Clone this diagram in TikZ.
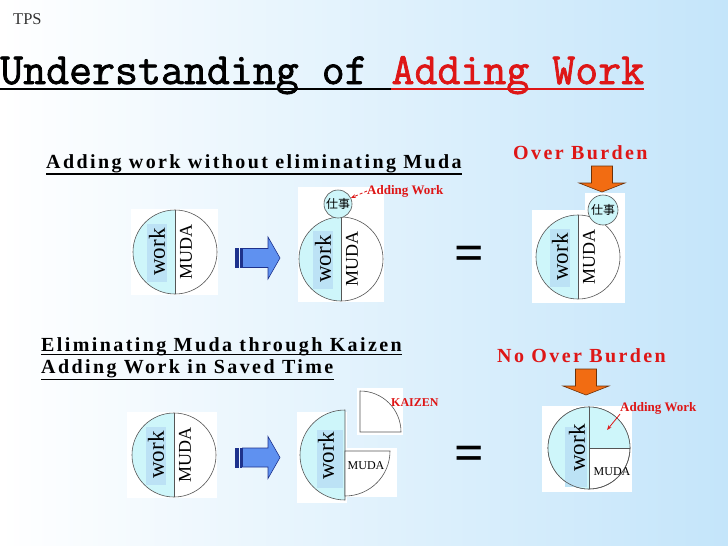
\documentclass[tikz,border=0pt]{standalone}
\usepackage{fontspec}
\setmainfont{Liberation Serif}
\newfontfamily\jpfont{Noto Sans CJK JP}
\newfontfamily\headfont[LetterSpace=12]{Liberation Serif}
\newfontfamily\titlefont[FakeBold=1.6]{Latin Modern Mono}
\usetikzlibrary{arrows.meta,positioning,calc}
\definecolor{bgblue}{RGB}{196,229,250}
\definecolor{cyanfill}{RGB}{206,246,250}
\definecolor{workbox}{RGB}{188,226,245}
\definecolor{tpsred}{RGB}{222,22,22}
\definecolor{arrowblue}{RGB}{95,145,240}
\definecolor{arrowedge}{RGB}{30,50,140}
\definecolor{burdenorange}{RGB}{242,108,18}
\definecolor{rimgray}{RGB}{85,85,85}

\begin{document}
\begin{tikzpicture}[x=1pt, y=-1pt,
    heading/.style={font=\headfont\bfseries\fontsize{20}{24}\selectfont, inner sep=0pt, anchor=base west},
    redhead/.style={heading, text=tpsred},
    note/.style={font=\bfseries\fontsize{13}{15}\selectfont, text=tpsred, inner sep=0pt},
    uline/.style={line width=1.8pt},
    panel/.style={fill=white, draw=none},
    rim/.style={draw=rimgray, line width=0.6pt},
    workbg/.style={fill=workbox, draw=none},
    worktext/.style={font=\fontsize{23}{23}\selectfont, rotate=90, inner sep=0pt},
    mudatext/.style={font=\fontsize{18}{18}\selectfont, rotate=90, inner sep=0pt},
    smallmuda/.style={font=\fontsize{12}{12}\selectfont, inner sep=0pt},
    jobcircle/.style={circle, fill=cyanfill, draw=rimgray, line width=0.6pt, minimum size=28pt,
                      inner sep=0pt, font=\jpfont\fontsize{12}{12}\selectfont},
    equals/.style={font=\bfseries\fontsize{52}{52}\selectfont, inner sep=0pt},
    bluearrow/.style={fill=arrowblue, draw=arrowedge, line width=0.6pt},
    orangearrow/.style={fill=burdenorange, draw=burdenorange!45!black, line width=0.6pt},
    pointer/.style={-{Stealth[length=5pt]}, tpsred, line width=0.8pt},
    pics/pushright/.style={code={
        \foreach \sx in {0,2.5,5}
            \draw[bluearrow] (\sx,-9.5) rectangle ++(1.2,19);
        \draw[bluearrow] (7.5,-9.5) -- (33,-9.5) -- (33,-21) -- (45,0) -- (33,21)
                          -- (33,9.5) -- (7.5,9.5) -- cycle;
    }},
    pics/pressdown/.style={code={
        \draw[orangearrow] (-10.5,-26) -- (10.5,-26) -- (10.5,-9) -- (23,-9) -- (0,0)
                           -- (-23,-9) -- (-10.5,-9) -- cycle;
    }},
    pics/pie/.style={code={
        \fill[cyanfill] (0,-42) arc[start angle=-90, end angle=-270, radius=42] -- cycle;
        \fill[workbg] (-28,-28) rectangle (-8,30);
        \draw[rim] (0,0) circle[radius=42];
        \draw[rim] (0,-42) -- (0,42);
        \node[worktext] (-work) at (-18,0) {work};
        \node[mudatext] (-muda) at (11,0) {MUDA};
    }},
]
\useasboundingbox (0,0) rectangle (728,546);
\shade[left color=white, right color=bgblue] (0,0) rectangle (728,546);

% Title
\node[font=\fontsize{16.5}{16}\selectfont, text=black!80, anchor=base west, inner sep=0pt] (tps) at (13,24) {TPS};
\node[font=\titlefont\fontsize{44.6}{45}\selectfont, anchor=base west, inner sep=0pt] (title) at (0,84) {Understanding of};
\node[font=\titlefont\fontsize{44.6}{45}\selectfont, anchor=base west, inner sep=0pt, text=tpsred]
    (titlered) at ([xshift=23.4pt]title.base east) {Adding Work};
\draw[uline] ([yshift=-5pt]title.base west) -- ([yshift=-5pt]titlered.base west);
\draw[uline, tpsred] ([yshift=-5pt]titlered.base west) -- ([yshift=-5pt]titlered.base east);

% Upper row: adding work on top of muda
\node[heading] (without) at (46,168) {Adding work without eliminating Muda};
\draw[uline] ([yshift=-6pt]without.base west) -- ([yshift=-6pt]without.base east);

\fill[panel] (131,209) rectangle (218,295);
\pic (before) at (175,252) {pie};
\pic at (235,258) {pushright};

\fill[panel] (298,187) rectangle (384,302);
\pic (after) at (341,259) {pie};
\node[jobcircle] (job) at (338,204) {仕事};
\node[note, anchor=west] (added) at (367,191) {Adding Work};
\draw[pointer, densely dashed] (added.west) -- (job.25);

\node[equals] (same) at (469,258) {=};

\node[redhead] (burden) at (513,159) {Over Burden};
\pic at (602,192) {pressdown};
\fill[panel] (532,210) rectangle (625,303);
\fill[panel] (585,193) rectangle (625,225);
\pic (loaded) at (578,257) {pie};
\node[jobcircle, minimum size=30pt] (extra) at (603,210) {仕事};

% Lower row: kaizen frees time for work
\node[heading] (kaizen) at (41,351) {Eliminating Muda through Kaizen};
\draw[uline] ([yshift=-3.5pt]kaizen.base west) -- ([yshift=-3.5pt]kaizen.base east);
\node[heading] (saved) at (41,373) {Adding Work in Saved Time};
\draw[uline] ([yshift=-6.5pt]saved.base west) -- ([yshift=-6.5pt]saved.base east);

\fill[panel] (127,412) rectangle (217,498);
\pic (start) at (174,455) {pie};
\pic at (235,457.5) {pushright};

\fill[panel] (297,412) rectangle (347,503);
\fill[panel] (343,448) rectangle (397,497);
\fill[panel] (357,388) rectangle (403,435);
\fill[cyanfill, rim] (345,410) arc[start angle=-90, end angle=-270, radius=45] -- cycle;
\fill[workbg] (317,430) rectangle (343,488);
\node[worktext] (halfwork) at (326,456) {work};
\draw[rim, fill=white] (345,451) -- (390,451) arc[start angle=0, end angle=90, radius=45] -- cycle;
\node[smallmuda] (halfmuda) at (366,466) {MUDA};
\draw[rim, fill=white] (360,432) -- (360,391) arc[start angle=-90, end angle=0, radius=41] -- cycle;
\node[note, font=\bfseries\fontsize{12}{14}\selectfont, anchor=west] (kaizentag) at (391,403) {KAIZEN};

\node[equals] (same2) at (469,458) {=};

\node[redhead] (noburden) at (497,362) {No Over Burden};
\pic at (586,395) {pressdown};
\fill[panel] (542,406) rectangle (632,492);
\fill[white, rim] (589,448) circle[radius=41];
\fill[cyanfill] (589,407) arc[start angle=-90, end angle=-270, radius=41] -- cycle;
\fill[cyanfill] (589,448) -- (589,407) arc[start angle=-90, end angle=0, radius=41] -- cycle;
\fill[workbg] (565,427) rectangle (587,487);
\draw[rim] (589,448) circle[radius=41];
\draw[rim] (589,407) -- (589,489);
\draw[rim] (589,448) -- (630,448);
\node[worktext] (fullwork) at (577,448) {work};
\node[smallmuda] (fullmuda) at (612,472) {MUDA};
\coordinate (gain) at (607,430);
\node[note, anchor=west] (added2) at (620,408) {Adding Work};
\draw[pointer] (added2.south west) -- (gain);
\end{tikzpicture}
\end{document}
